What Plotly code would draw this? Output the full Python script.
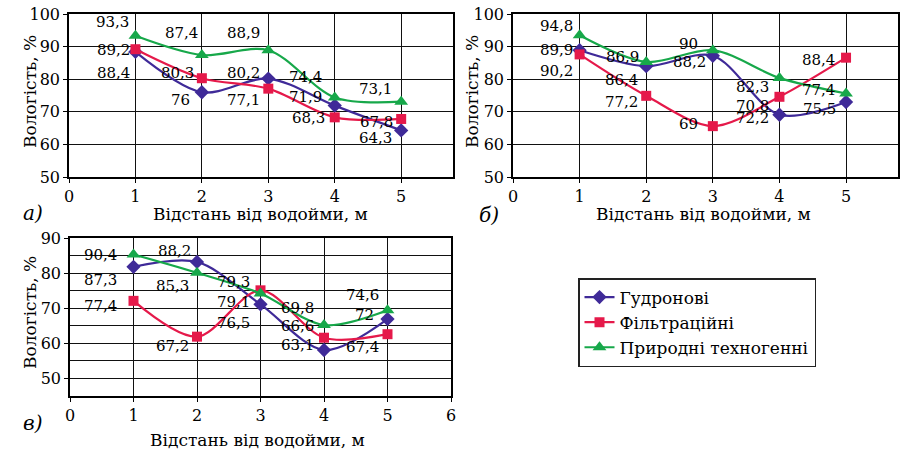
import plotly.graph_objects as go

# ---------------- DATA ----------------
distance = [1, 2, 3, 4, 5]
series_names = ["Гудронові", "Фільтраційні", "Природні техногенні"]

# panel а)
a_gudron = [88.4, 76.0, 80.2, 71.9, 64.3]
a_filtr = [89.2, 80.3, 77.1, 68.3, 67.8]
a_pryrod = [93.3, 87.4, 88.9, 74.4, 73.1]
a_label_text = ["93,3", "89,2", "88,4", "87,4", "80,3", "76", "88,9", "80,2", "77,1",
                "74,4", "71,9", "68,3", "73,1", "67,8", "64,3"]
a_label_x = [0.66, 0.67, 0.67, 1.69, 1.63, 1.68, 2.63, 2.63, 2.63,
             3.56, 3.56, 3.61, 4.61, 4.63, 4.61]
a_label_y = [97.4, 89.0, 81.9, 94.2, 81.9, 73.7, 94.2, 81.9, 73.7,
             80.7, 74.6, 68.2, 77.0, 67.0, 62.1]

# panel б)
b_gudron = [88.9, 84.0, 87.2, 69.1, 73.0]
b_filtr = [87.6, 74.9, 65.6, 74.6, 86.6]
b_pryrod = [93.5, 85.3, 88.9, 80.4, 75.6]
b_label_text = ["94,8", "89,9", "90,2", "86,9", "86,4", "77,2", "90", "88,2", "69",
                "82,3", "70,8", "72,2", "88,4", "77,4", "75,5"]
b_label_x = [0.66, 0.66, 0.66, 1.64, 1.63, 1.63, 2.64, 2.65, 2.64,
             3.6, 3.6, 3.6, 4.58, 4.59, 4.6]
b_label_y = [96.2, 88.9, 82.6, 86.9, 79.7, 73.0, 90.9, 85.3, 66.2,
             77.6, 71.7, 68.2, 85.8, 76.8, 71.0]

# panel в)
c_gudron = [81.8, 83.2, 71.1, 58.1, 66.9]
c_filtr = [72.1, 61.9, 75.1, 61.6, 62.6]
c_pryrod = [85.3, 80.1, 74.2, 65.2, 69.4]
c_label_text = ["90,4", "87,3", "77,4", "88,2", "85,3", "67,2", "79,3", "79,1", "76,5",
                "69,8", "66,6", "63,1", "74,6", "72", "67,4"]
c_label_x = [0.48, 0.48, 0.48, 1.64, 1.61, 1.61, 2.58, 2.58, 2.58,
             3.58, 3.58, 3.59, 4.61, 4.63, 4.61]
c_label_y = [85.3, 78.0, 70.6, 86.3, 76.3, 59.1, 77.5, 71.8, 65.9,
             70.0, 64.8, 59.5, 73.9, 68.2, 59.0]

x_tick_ab = [0, 1, 2, 3, 4, 5]
x_tick_c = [0, 1, 2, 3, 4, 5, 6]
y_tick_ab = [50, 60, 70, 80, 90, 100]
y_tick_c = [50, 60, 70, 80, 90]

# ---------------- STYLE ----------------
W, H = 908, 451
FONT = "DejaVu Serif"
colors = ["#3F2A98", "#E5194A", "#17A84A"]
symbols = ["diamond", "square", "triangle-up"]
msizes = [11, 10, 12]


def px_x(p):
    return p / W


def px_y(p):
    return 1 - p / H


fig = go.Figure()

panels = [
    ("x", "y", [a_gudron, a_filtr, a_pryrod]),
    ("x2", "y2", [b_gudron, b_filtr, b_pryrod]),
    ("x3", "y3", [c_gudron, c_filtr, c_pryrod]),
]
for pi, (xa, ya, data) in enumerate(panels):
    for si, vals in enumerate(data):
        fig.add_trace(go.Scatter(
            x=distance, y=vals, mode="lines+markers", name=series_names[si],
            xaxis=xa, yaxis=ya, showlegend=(pi == 0),
            line=dict(color=colors[si], width=2.2, shape="spline", smoothing=0.9),
            marker=dict(symbol=symbols[si], size=msizes[si], color=colors[si]),
        ))

axis_common = dict(
    showline=True, linecolor="black", linewidth=1.5, mirror=True,
    showgrid=True, gridcolor="#111111", gridwidth=1.3,
    ticks="outside", ticklen=4, tickcolor="black", tickwidth=1.3,
    tickfont=dict(family=FONT, size=16, color="black"), zeroline=False,
    automargin=False,
)

fig.update_layout(
    width=W, height=H, margin=dict(l=0, r=0, t=0, b=0, autoexpand=False),
    paper_bgcolor="white", plot_bgcolor="white",
    font=dict(family=FONT, color="black"),
    xaxis=dict(domain=[px_x(69), px_x(453)], range=[0, 5.78], tickvals=x_tick_ab,
               anchor="y", **axis_common),
    yaxis=dict(domain=[px_y(177), px_y(14)], range=[50, 100], tickvals=y_tick_ab,
               anchor="x", **axis_common),
    xaxis2=dict(domain=[px_x(513), px_x(898)], range=[0, 5.78], tickvals=x_tick_ab,
                anchor="y2", **axis_common),
    yaxis2=dict(domain=[px_y(177), px_y(14)], range=[50, 100], tickvals=y_tick_ab,
                anchor="x2", **axis_common),
    xaxis3=dict(domain=[px_x(70), px_x(451)], range=[0, 6], tickvals=x_tick_c,
                anchor="y3", **axis_common),
    yaxis3=dict(domain=[px_y(396), px_y(238)], range=[45, 90], tickvals=y_tick_c,
                anchor="x3", minor=dict(dtick=5, tick0=45, showgrid=True,
                                        gridcolor="#111111", gridwidth=1.3),
                **axis_common),
    legend=dict(x=px_x(578), y=px_y(278), xanchor="left", yanchor="top",
                bgcolor="white", bordercolor="#222222", borderwidth=1.5,
                font=dict(family=FONT, size=17, color="black"),
                tracegroupgap=4, itemwidth=30),
)

annotations = []
for (xa, ya, texts, lx, ly) in [
    ("x", "y", a_label_text, a_label_x, a_label_y),
    ("x2", "y2", b_label_text, b_label_x, b_label_y),
    ("x3", "y3", c_label_text, c_label_x, c_label_y),
]:
    for t, xx, yy in zip(texts, lx, ly):
        annotations.append(dict(
            x=xx, y=yy, xref=xa, yref=ya, text=t, showarrow=False,
            font=dict(family=FONT, size=15, color="black"),
            xanchor="center", yanchor="middle"))

# axis titles and panel letters
for cx, cy in [(30, 92), (472, 92), (30, 313)]:
    annotations.append(dict(x=px_x(cx), y=px_y(cy), xref="paper", yref="paper",
                            text="Вологість, %", textangle=-90, showarrow=False,
                            font=dict(family=FONT, size=17, color="black"),
                            xanchor="center", yanchor="middle"))
for cx, cy in [(260, 214), (703, 214), (257, 440)]:
    annotations.append(dict(x=px_x(cx), y=px_y(cy), xref="paper", yref="paper",
                            text="Відстань від водойми, м", showarrow=False,
                            font=dict(family=FONT, size=17, color="black"),
                            xanchor="center", yanchor="middle"))
for txt, cx, cy in [("а)", 33, 213), ("б)", 489, 215), ("в)", 32, 423)]:
    annotations.append(dict(x=px_x(cx), y=px_y(cy), xref="paper", yref="paper",
                            text="<i>" + txt + "</i>", showarrow=False,
                            font=dict(family=FONT, size=20, color="black"),
                            xanchor="center", yanchor="middle"))

fig.update_layout(annotations=annotations)
fig.write_html("out.html", config={"displayModeBar": False},
               post_script="document.body.style.margin='0px';")
